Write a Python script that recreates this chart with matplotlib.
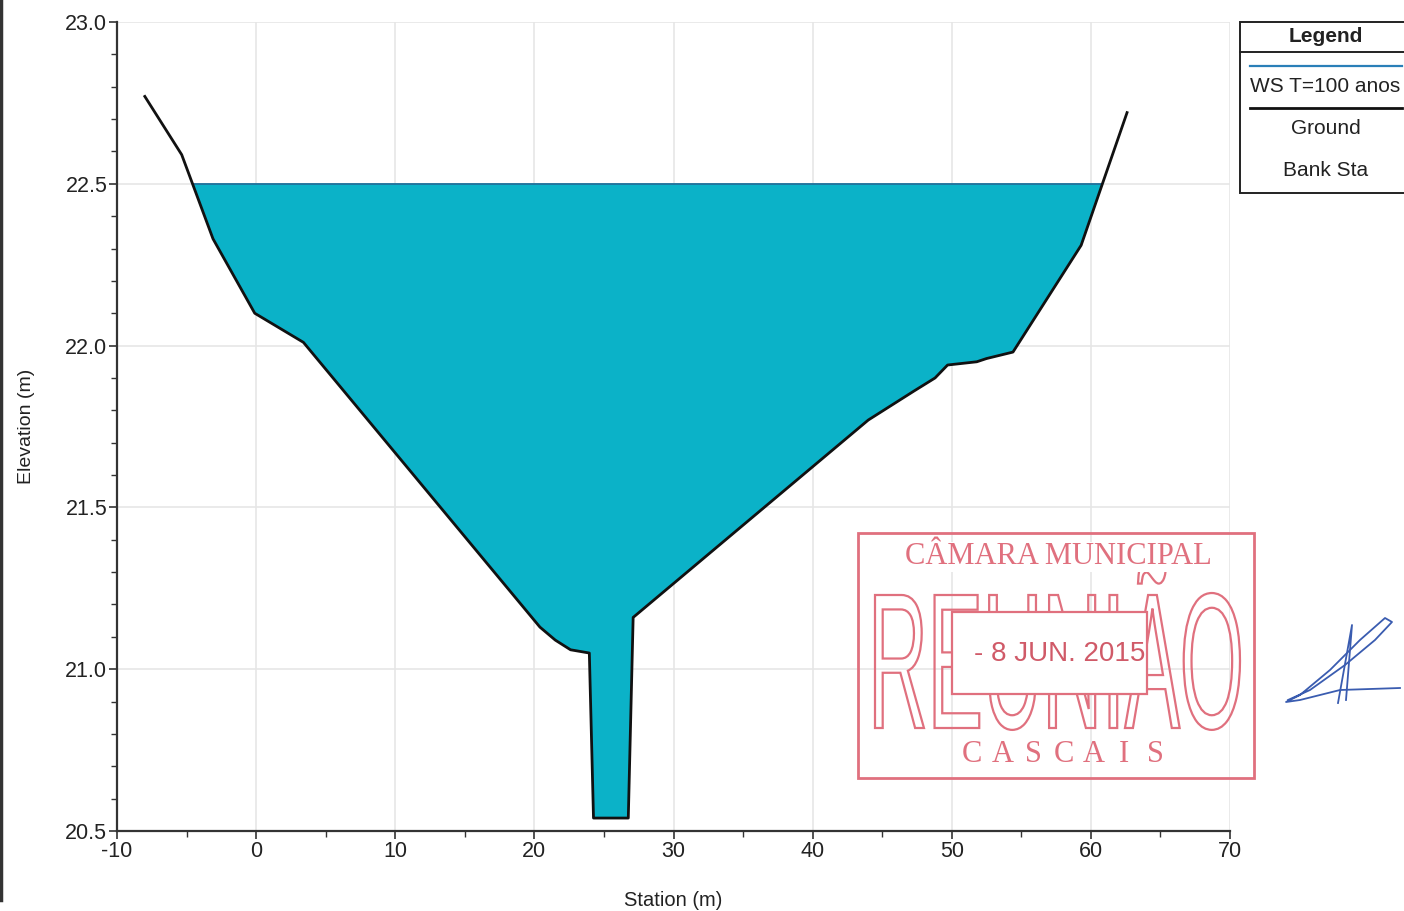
import matplotlib
matplotlib.use('Agg')
import matplotlib.pyplot as plt
import numpy as np
from matplotlib.lines import Line2D
from matplotlib.patches import Rectangle, PathPatch
from matplotlib.textpath import TextPath
from matplotlib.font_manager import FontProperties
from matplotlib import transforms
from matplotlib.ticker import MultipleLocator, FormatStrFormatter

# cross-section data
ground_sta = [-8.0, -5.35, -3.1, -0.1, 3.4, 20.4, 21.5, 22.6, 23.95, 24.25, 26.75,
              27.1, 44.0, 47.3, 48.8, 49.7, 51.8, 52.5, 54.4, 59.3, 62.6]
ground_elev = [22.77, 22.59, 22.33, 22.10, 22.01, 21.13, 21.09, 21.06, 21.05, 20.54, 20.54,
               21.16, 21.77, 21.86, 21.90, 21.94, 21.95, 21.96, 21.98, 22.31, 22.72]
ws_elev = 22.50

legend_labels = ['WS T=100 anos', 'Ground', 'Bank Sta']
x_label = 'Station (m)'
y_label = 'Elevation (m)'

plt.rcParams['font.family'] = ['Liberation Sans', 'DejaVu Sans']
plt.rcParams['axes.unicode_minus'] = False

W, H = 1404, 911
fig = plt.figure(figsize=(W / 100, H / 100), dpi=100)
ax = fig.add_axes([117 / W, 1 - 831 / H, (1230 - 117) / W, (831 - 22) / H])

sta = np.array(ground_sta)
elev = np.array(ground_elev)

# water fill between WS and ground where ground is below WS
xs = np.linspace(sta.min(), sta.max(), 4000)
xs = np.unique(np.concatenate([xs, sta]))
gz = np.interp(xs, sta, elev)
water_color = '#0bb2c8'
ax.fill_between(xs, gz, ws_elev, where=gz <= ws_elev, color=water_color,
                interpolate=True, lw=0, zorder=2)
wet = xs[gz <= ws_elev]
ax.plot([wet.min(), wet.max()], [ws_elev, ws_elev], color='#1a6f9a', lw=1.3, zorder=3)
ax.plot(sta, elev, color='#111111', lw=2.0, zorder=4, solid_joinstyle='round')

ax.set_xlim(-10, 70)
ax.set_ylim(20.5, 23.0)
ax.xaxis.set_major_locator(MultipleLocator(10))
ax.xaxis.set_minor_locator(MultipleLocator(5))
ax.yaxis.set_major_locator(MultipleLocator(0.5))
ax.yaxis.set_minor_locator(MultipleLocator(0.1))
ax.yaxis.set_major_formatter(FormatStrFormatter('%.1f'))
ax.grid(True, which='major', color='#e6e6e6', lw=1.2, zorder=0)
ax.set_axisbelow(True)
for s in ('top', 'right'):
    ax.spines[s].set_visible(False)
for s in ('left', 'bottom'):
    ax.spines[s].set_color('#333333')
    ax.spines[s].set_linewidth(1.6)
ax.tick_params(which='major', length=6, width=1.2, color='#333333', labelsize=15.5,
               labelcolor='#222222', pad=1)
ax.tick_params(which='minor', length=4, width=1.0, color='#333333')
ax.set_xlabel(x_label, fontsize=14.5, color='#222222', labelpad=21)
ax.set_ylabel(y_label, fontsize=14, color='#222222', labelpad=22)

# legend box (HEC-RAS style)
def fy(py):
    return 1 - py / H

def fx(px):
    return px / W

fig.add_artist(Rectangle((fx(1240), fy(193)), fx(1410) - fx(1240), fy(22) - fy(193),
                         transform=fig.transFigure, facecolor='white',
                         edgecolor='#222222', lw=1.4))
fig.add_artist(Line2D([fx(1240), fx(1404)], [fy(52), fy(52)], color='#222222', lw=1.4,
                      transform=fig.transFigure))
fig.text(fx(1326), fy(36), 'Legend', ha='center', va='center', fontsize=15,
         fontweight='bold', color='#222222')
fig.add_artist(Line2D([fx(1250), fx(1402)], [fy(66), fy(66)], color='#2a7fb8', lw=1.6,
                      transform=fig.transFigure))
fig.text(fx(1325), fy(86), legend_labels[0], ha='center', va='center', fontsize=15,
         color='#222222')
fig.add_artist(Line2D([fx(1250), fx(1402)], [fy(108), fy(108)], color='#111111', lw=2.0,
                      transform=fig.transFigure))
fig.text(fx(1326), fy(128), legend_labels[1], ha='center', va='center', fontsize=15,
         color='#222222')
fig.text(fx(1326), fy(171), legend_labels[2], ha='center', va='center', fontsize=15,
         color='#222222')

# scan edge
fig.add_artist(Line2D([0.001, 0.001], [fy(900), 1.0], color='#333333', lw=2.5,
                      transform=fig.transFigure))

# municipal stamp
red = '#e0707e'
fig.add_artist(Rectangle((fx(858), fy(778)), fx(1254) - fx(858), fy(533) - fy(778),
                         transform=fig.transFigure, facecolor='none', edgecolor=red, lw=2.0))

tp = TextPath((0, 0), 'REUNIÃO', size=100, prop=FontProperties(family='Liberation Sans'))
ext = tp.get_extents()
cap = TextPath((0, 0), 'R', size=100, prop=FontProperties(family='Liberation Sans')).get_extents()
sx = (1240 - 875) / ext.width
sy = (728 - 595) / cap.height
tr = transforms.Affine2D().translate(-ext.x0, 0).scale(sx, sy).translate(875, H - 728)
fig.add_artist(PathPatch(tr.transform_path(tp), facecolor='none', edgecolor=red, lw=1.6,
                         transform=transforms.IdentityTransform()))

fig.text(fx(1058), fy(557), 'CÂMARA MUNICIPAL', ha='center', va='center', fontsize=22,
         family='Liberation Serif', color=red,
         bbox=dict(facecolor='white', edgecolor='none', pad=0.5))

fig.add_artist(Rectangle((fx(952), fy(694)), fx(1147) - fx(952), fy(612) - fy(694),
                         transform=fig.transFigure, facecolor='white', edgecolor=red, lw=1.6))
fig.text(fx(1060), fy(654), '- 8 JUN. 2015', ha='center', va='center', fontsize=20,
         color='#d05a68', family='Liberation Sans')

stamp_town = 'CASCAIS'
for i, ch in enumerate(stamp_town):
    fig.text(fx(972 + i * 30.5), fy(755), ch, ha='center', va='center', fontsize=22,
             family='Liberation Serif', color=red)

# signature scribble
sig_x = [1288, 1310, 1345, 1375, 1392, 1385, 1360, 1330, 1300, 1286, 1300, 1340, 1400]
sig_y = [700, 690, 665, 640, 622, 618, 640, 670, 695, 702, 700, 690, 688]
fig.add_artist(Line2D([fx(v) for v in sig_x], [fy(v) for v in sig_y], color='#3a5cb0',
                      lw=1.3, transform=fig.transFigure))
fig.add_artist(Line2D([fx(1338), fx(1352), fx(1346)], [fy(703), fy(625), fy(700)],
                      color='#3a5cb0', lw=1.3, transform=fig.transFigure))

fig.savefig('out.png', dpi=100)
